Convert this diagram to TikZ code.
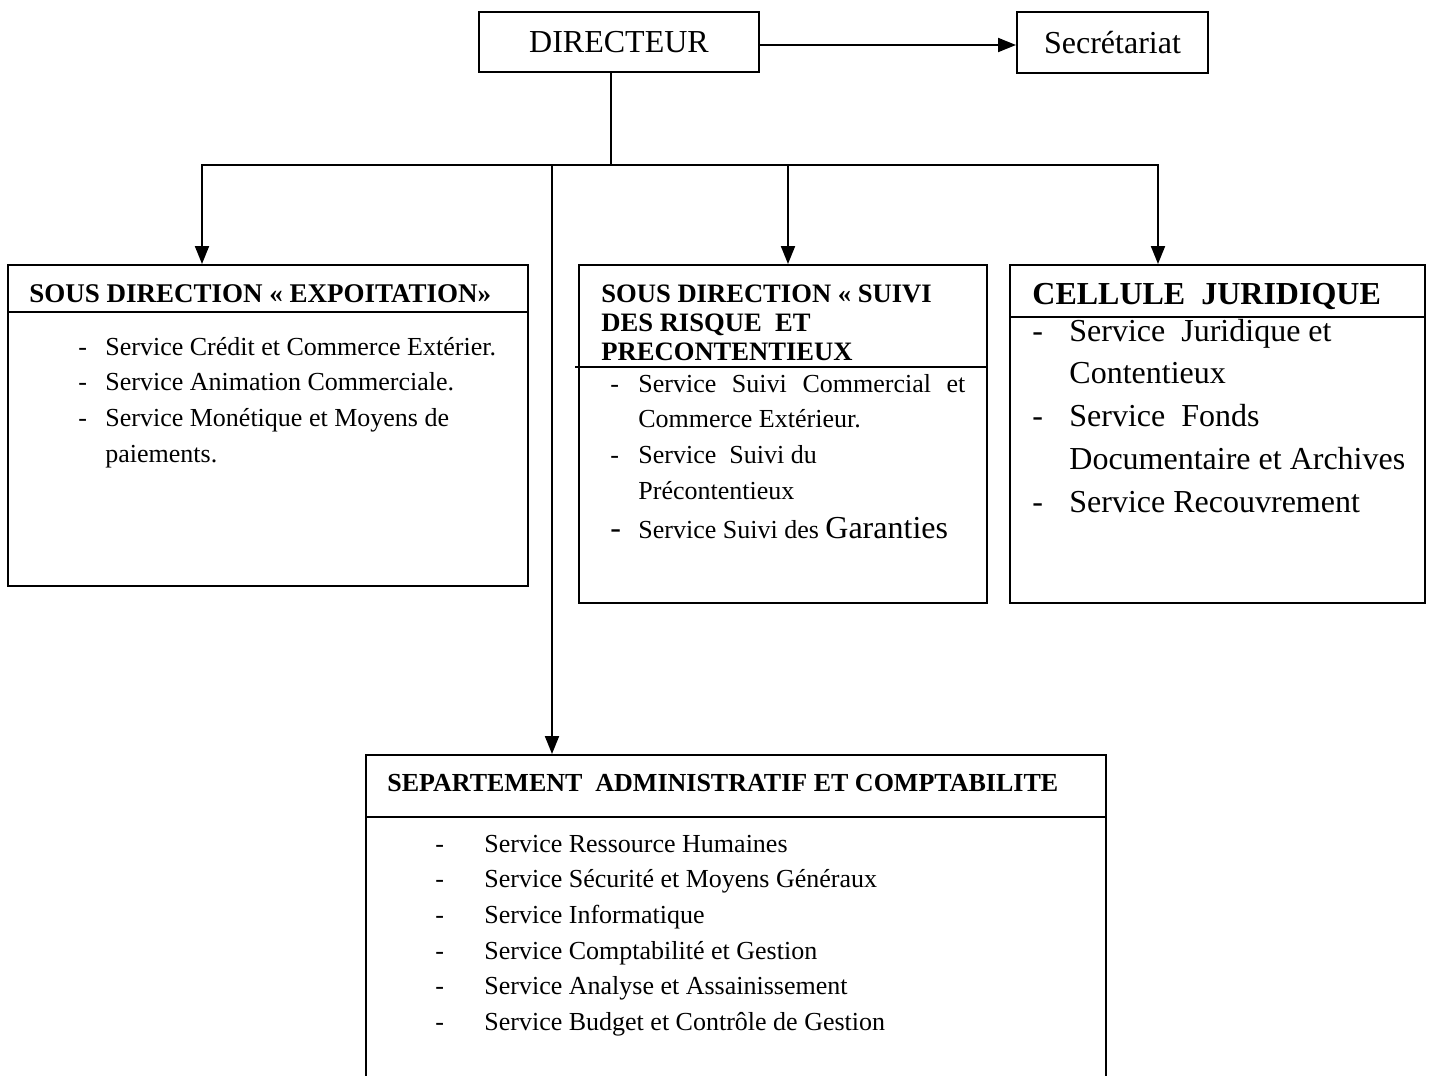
\documentclass[tikz,border=0pt]{standalone}
\usepackage{fontspec}
\setmainfont{Liberation Serif}
\usetikzlibrary{arrows.meta}

\begin{document}
\begin{tikzpicture}[
    x=0.5pt, y=-0.5pt,
    unit/.style={draw, rectangle, line width=1pt, inner sep=0pt},
    head/.style={anchor=base west, inner sep=0pt,
        font=\bfseries\fontsize{13.5pt}{15pt}\selectfont},
    list/.style={anchor=base west, inner sep=0pt,
        font=\fontsize{13pt}{17.85pt}\selectfont},
    arrow/.style={line width=1pt, -{Triangle[length=9pt,width=7pt]}},
    link/.style={line width=1pt},
]
\useasboundingbox (0,0) rectangle (1431,1076);

% ===== TOP =====
\node[unit, minimum width=140pt, minimum height=30pt,
    font=\fontsize{16pt}{18pt}\selectfont] (dir) at (619,42) {DIRECTEUR};
\node[unit, minimum width=95.5pt, minimum height=30.5pt,
    font=\fontsize{16pt}{18pt}\selectfont] (sec) at (1112.5,42.5) {Secrétariat};
\coordinate (s0) at ([yshift=-1.5pt]dir.east);
\draw[arrow] (s0) -- (s0 -| sec.west);

% ===== BOXES =====
\node[unit, minimum width=260pt, minimum height=160.5pt] (expl) at (268,425.5) {};
\node[unit, minimum width=204pt, minimum height=169pt] (suivi) at (783,434) {};
\node[unit, minimum width=207.5pt, minimum height=169pt] (jur) at (1217.5,434) {};
\node[unit, minimum width=370pt, minimum height=167.5pt] (admin) at (736,922.5) {};

% dividers
\path (expl.north west) ++(0,48) coordinate (d1);
\path (suivi.north west) ++(-3,103) coordinate (d2);
\path (jur.north west) ++(0,53) coordinate (d3);
\path (admin.north west) ++(0,63) coordinate (d4);
\draw[link] (d1) -- (d1 -| expl.east);
\draw[link] (d2) -- (d2 -| suivi.east);
\draw[link] (d3) -- (d3 -| jur.east);
\draw[link] (d4) -- (d4 -| admin.east);

% headers
\node[head] (expl-h) at (29,302) {SOUS DIRECTION « EXPOITATION»};
\node[head, font=\bfseries\fontsize{13.3pt}{14.5pt}\selectfont] (suivi-h) at (601,302)
    {\begin{tabular}[t]{@{}l@{}}SOUS DIRECTION « SUIVI\\DES RISQUE\ \ ET\\PRECONTENTIEUX\end{tabular}};
\node[head, font=\bfseries\fontsize{16pt}{18pt}\selectfont] (jur-h) at (1032,304)
    {CELLULE\ \ JURIDIQUE};
\node[head, font=\bfseries\fontsize{13pt}{15pt}\selectfont] (admin-h) at (387,791)
    {SEPARTEMENT\ \ ADMINISTRATIF ET COMPTABILITE};

% lists
\node[list] (expl-l) at (78,355) {\begin{tabular}[t]{@{}p{13.5pt}@{}l@{}}
    - & Service Crédit et Commerce Extérier.\\
    - & Service Animation Commerciale.\\
    - & Service Monétique et Moyens de\\
      & paiements.
    \end{tabular}};
\node[list] (suivi-l) at (610,392) {\begin{tabular}[t]{@{}p{14pt}@{}l@{}}
    - & \makebox[163.5pt][s]{Service Suivi Commercial et}\\
      & Commerce Extérieur.\\
    - & Service\ \ Suivi du\\
      & Précontentieux\\[1.7pt]
    {\fontsize{16pt}{18pt}\selectfont -} & Service Suivi des {\fontsize{16pt}{18pt}\selectfont Garanties}
    \end{tabular}};
\node[list, font=\fontsize{16pt}{21.4pt}\selectfont] (jur-l) at (1032,341)
    {\begin{tabular}[t]{@{}p{18.5pt}@{}l@{}}
    - & Service\ \ Juridique et\\
      & Contentieux\\
    - & Service\ \ Fonds\\
      & Documentaire et Archives\\
    - & Service Recouvrement
    \end{tabular}};
\node[list] (admin-l) at (435,852) {\begin{tabular}[t]{@{}p{24.5pt}@{}l@{}}
    - & Service Ressource Humaines\\
    - & Service Sécurité et Moyens Généraux\\
    - & Service Informatique\\
    - & Service Comptabilité et Gestion\\
    - & Service Analyse et Assainissement\\
    - & Service Budget et Contrôle de Gestion
    \end{tabular}};

% ===== CONNECTORS =====
\coordinate (hub) at (611,165);
\coordinate (j1) at (202,165);
\coordinate (j2) at (788,165);
\coordinate (j3) at (552,165);
\coordinate (j4) at (1158,165);
\draw[link] (dir.south -| hub) -- (hub);
\draw[arrow] (hub) -| (j1 |- expl.north);
\draw[arrow] (hub) -| (j4 |- jur.north);
\draw[arrow] (j2) -- (j2 |- suivi.north);
\draw[arrow] (j3) -- (j3 |- admin.north);

\end{tikzpicture}
\end{document}
